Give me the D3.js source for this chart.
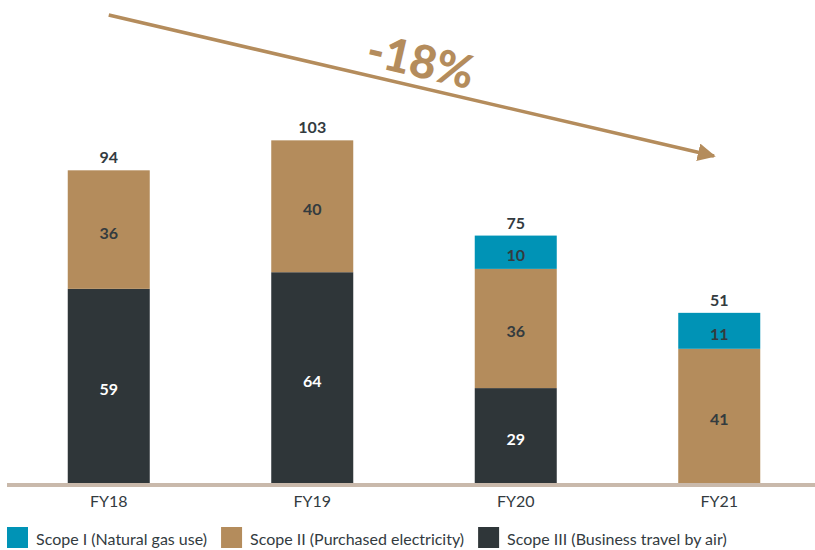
<!DOCTYPE html>
<html>
<head>
<meta charset="utf-8">
<script src="https://cdn.jsdelivr.net/npm/d3@7"></script>
<style>
  html, body { margin: 0; padding: 0; background: #fff; }
  svg { display: block; font-family: Lato, "Noto Sans", sans-serif; }
</style>
</head>
<body>
<svg id="chart" width="815" height="550"></svg>
<script>
// Emissions by fiscal year, split by scope
const years = ["FY18", "FY19", "FY20", "FY21"];
const scope1 = [0, 0, 10.0, 10.8];      // Natural gas use
const scope2 = [35.6, 39.6, 35.8, 40.6]; // Purchased electricity
const scope3 = [58.6, 63.6, 28.8, 0];    // Business travel by air
const totals = [94, 103, 75, 51];
const seriesNames = [
  "Scope I (Natural gas use)",
  "Scope II (Purchased electricity)",
  "Scope III (Business travel by air)"
];
const changeLabel = "-18%";

const colors = { s1: "#0093b6", s2: "#b48c5c", s3: "#2f3639" };
const textDark = "#333b3f";

const svg = d3.select("#chart");

const x = d3.scaleBand().domain(years).range([7, 821]).paddingInner(0.597).paddingOuter(0.2985);
const y = d3.scaleLinear().domain([0, 120]).range([484, 484 - 120 * 3.33]);

// stack bottom-up: scope III, scope II, scope I
const rows = years.map((yr, i) => ({ year: yr, s3: scope3[i], s2: scope2[i], s1: scope1[i] }));
const stack = d3.stack().keys(["s3", "s2", "s1"]);
const layers = stack(rows);

const g = svg.append("g");
layers.forEach(layer => {
  const key = layer.key;
  g.selectAll(null)
    .data(layer.filter(d => d[1] - d[0] > 0))
    .join("rect")
    .attr("x", d => x(d.data.year))
    .attr("width", x.bandwidth())
    .attr("y", d => y(d[1]))
    .attr("height", d => y(d[0]) - y(d[1]))
    .attr("fill", colors[key]);

  g.selectAll(null)
    .data(layer.filter(d => d[1] - d[0] > 0))
    .join("text")
    .attr("x", d => x(d.data.year) + x.bandwidth() / 2)
    .attr("y", d => (y(d[0]) + y(d[1])) / 2 + 2.5)
    .attr("text-anchor", "middle")
    .attr("dominant-baseline", "central")
    .attr("font-size", 16)
    .attr("font-weight", 700)
    .attr("fill", key === "s3" ? "#ffffff" : textDark)
    .text(d => d3.format(".0f")(d[1] - d[0]));
});

// totals above each bar
const topLayer = layers[layers.length - 1];
g.selectAll(null)
  .data(topLayer)
  .join("text")
  .attr("x", d => x(d.data.year) + x.bandwidth() / 2)
  .attr("y", d => y(d[1]) - 7)
  .attr("text-anchor", "middle")
  .attr("font-size", 16)
  .attr("font-weight", 700)
  .attr("fill", textDark)
  .text((d, i) => totals[i]);

// baseline
svg.append("line")
  .attr("x1", 7).attr("x2", 815)
  .attr("y1", y(0) + 1).attr("y2", y(0) + 1)
  .attr("stroke", "#c9b9ab")
  .attr("stroke-width", 4);

// category axis labels
const xAxis = d3.axisBottom(x).tickSize(0).tickPadding(0);
const ax = svg.append("g").attr("transform", `translate(0, ${y(0)})`).call(xAxis);
ax.select(".domain").remove();
ax.selectAll("text")
  .attr("y", 23)
  .attr("dy", 0)
  .attr("font-family", "Lato, 'Noto Sans', sans-serif")
  .attr("font-size", 16)
  .attr("fill", textDark);

// trend arrow with change label
const defs = svg.append("defs");
defs.append("marker")
  .attr("id", "arrowhead")
  .attr("viewBox", "0 0 10 10")
  .attr("refX", 9).attr("refY", 5)
  .attr("markerWidth", 5).attr("markerHeight", 5)
  .attr("markerUnits", "strokeWidth")
  .attr("orient", "auto")
  .append("path")
  .attr("d", "M0,0 L10,5 L0,10 Z")
  .attr("fill", colors.s2);

const ax0 = x("FY18") + x.bandwidth() / 2, ay0 = 15;
const ax1 = 718, ay1 = 157;
svg.append("line")
  .attr("x1", ax0).attr("y1", ay0)
  .attr("x2", ax1 - 4).attr("y2", ay1 - 1)
  .attr("stroke", colors.s2)
  .attr("stroke-width", 3.6)
  .attr("marker-end", "url(#arrowhead)");

const angle = Math.atan2(ay1 - ay0, ax1 - ax0) * 180 / Math.PI;
svg.append("text")
  .attr("transform", `translate(421, 60) rotate(${angle})`)
  .attr("text-anchor", "middle")
  .attr("dominant-baseline", "central")
  .attr("font-size", 46)
  .attr("font-weight", 900)
  .attr("fill", colors.s2)
  .text(changeLabel);

// legend
const legendColors = [colors.s1, colors.s2, colors.s3];
let lx = 7;
seriesNames.forEach((name, i) => {
  svg.append("rect")
    .attr("x", lx).attr("y", 527)
    .attr("width", 21).attr("height", 21)
    .attr("fill", legendColors[i]);
  const t = svg.append("text")
    .attr("x", lx + 29).attr("y", 545)
    .attr("font-size", 16)
    .attr("fill", textDark)
    .text(name);
  lx = lx + 29 + t.node().getComputedTextLength() + 14;
});
</script>
</body>
</html>
